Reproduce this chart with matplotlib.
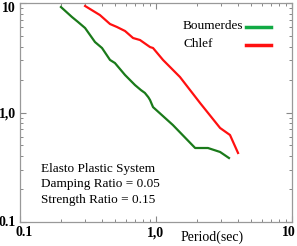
import matplotlib
matplotlib.use("Agg")
import matplotlib.pyplot as plt
import matplotlib.transforms as mtransforms
from matplotlib.lines import Line2D
from matplotlib.ticker import FixedLocator, LogLocator, NullFormatter

# Boumerdes spectrum (period [s], ductility demand)
boum_T = [0.200, 0.241, 0.267, 0.301, 0.356, 0.401, 0.459, 0.499, 0.592, 0.701,
          0.776, 0.828, 0.878, 0.904, 0.951, 1.33, 1.94, 2.41, 2.96, 3.44]
boum_mu = [9.19, 7.45, 6.71, 5.91, 4.40, 3.88, 3.02, 2.83, 2.20, 1.78,
           1.60, 1.51, 1.38, 1.30, 1.12, 0.769, 0.474, 0.474, 0.436, 0.384]

# Chlef spectrum
chlef_T = [0.301, 0.387, 0.459, 0.516, 0.592, 0.678, 0.763, 0.904, 0.951, 1.126,
           1.50, 2.11, 2.96, 3.50, 4.01]
chlef_mu = [9.39, 7.76, 6.43, 6.04, 5.55, 4.79, 4.59, 3.96, 3.88, 3.02,
            2.11, 1.22, 0.722, 0.623, 0.427]

tick_vals = [0.1, 1.0, 10]
tick_labels = ["0.1", "1,0", "10"]
series_names = ["Boumerdes", "Chlef"]
legend_colors = ["#11aa44", "#ff1010"]
info_lines = ["Elasto Plastic System", "Damping Ratio = 0.05", "Strength Ratio = 0.15"]

plt.rcParams["font.family"] = ["Liberation Serif", "DejaVu Serif"]

W, H = 297, 246
fig = plt.figure(figsize=(W / 100, H / 100), dpi=100)
ax = fig.add_axes([20 / W, 1 - 222 / H, 272 / W, 219 / H])

ax.plot(boum_T, boum_mu, color="#1a7a1a", lw=1.6)
ax.plot(chlef_T, chlef_mu, color="#ff1010", lw=1.6)

ax.set_xscale("log")
ax.set_yscale("log")
ax.set_xlim(0.1, 10)
ax.set_ylim(0.1, 10)

ax.xaxis.set_major_locator(FixedLocator(tick_vals))
ax.yaxis.set_major_locator(FixedLocator(tick_vals))
ax.set_xticklabels(tick_labels, fontweight="bold", fontsize=10)
ax.set_yticklabels(tick_labels, fontweight="bold", fontsize=10)
ax.xaxis.set_minor_locator(LogLocator(base=10, subs=range(2, 10)))
ax.yaxis.set_minor_locator(LogLocator(base=10, subs=range(2, 10)))
ax.xaxis.set_minor_formatter(NullFormatter())
ax.yaxis.set_minor_formatter(NullFormatter())

ax.tick_params(which="both", direction="in", top=True, right=True, colors="#888888",
               labelcolor="black")
ax.tick_params(which="major", length=4, width=0.8, pad=3)
ax.tick_params(which="minor", length=2.5, width=0.7)
for s in ax.spines.values():
    s.set_color("#999999")
    s.set_linewidth(0.9)


def nudge(label, dx, dy):
    label.set_transform(label.get_transform() +
                        mtransforms.ScaledTranslation(dx / 100, dy / 100, fig.dpi_scale_trans))


# keep edge labels inside the picture
nudge(ax.get_xticklabels()[-1], -3, 0)
nudge(ax.get_xticklabels()[0], 4, 0)
nudge(ax.get_yticklabels()[-1], 0, -4)
nudge(ax.get_yticklabels()[0], 0, 1)

fig.text(212 / W, 1 - 237 / H, "Period(sec)", fontsize=10, ha="center", va="center")

for i, line in enumerate(info_lines):
    fig.text(41 / W, 1 - (169 + 15.5 * i) / H, line, fontsize=9.5,
             ha="left", va="center")

# legend: label on the left, line sample on the right
for i, (name, col) in enumerate(zip(series_names, legend_colors)):
    y = 1 - (26 + 18 * i) / H
    fig.text(183 / W, y, name, fontsize=9.5, ha="left", va="center")
    fig.add_artist(Line2D([246 / W, 271 / W], [y - 1 / H, y - 1 / H],
                          color=col, lw=2.5, transform=fig.transFigure))

fig.savefig("out.png", dpi=100)
